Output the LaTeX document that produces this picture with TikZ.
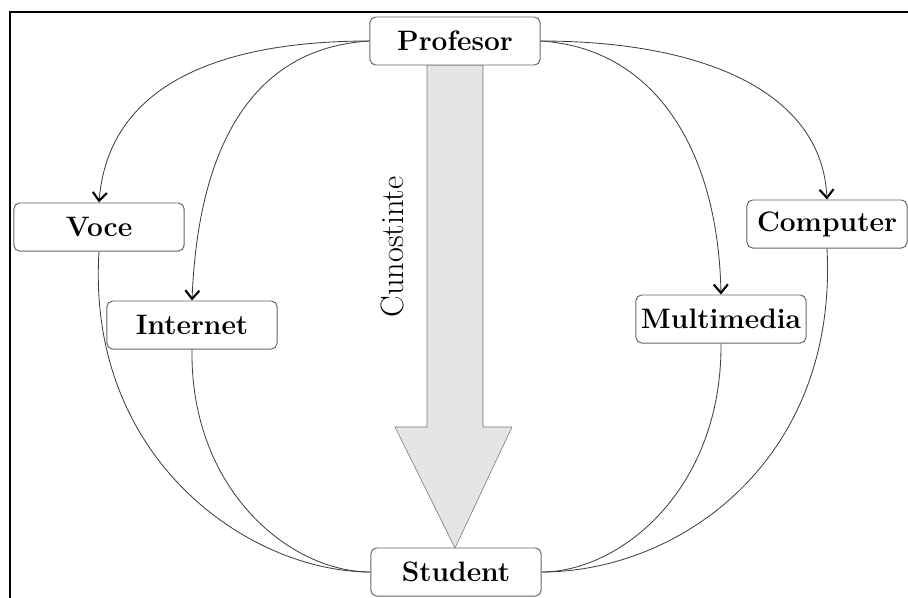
\documentclass[tikz,border=0pt]{standalone}
\usepackage{tikz}
\usetikzlibrary{arrows.meta}

\begin{document}
\begin{tikzpicture}[x=0.025cm,y=-0.025cm,
    box/.style={draw=black!60,line width=0.7pt,rounded corners=4pt,fill=white,minimum width=4.25cm,minimum height=1.2cm,inner sep=1pt,font=\fontsize{20}{24}\selectfont\bfseries},
    link/.style={draw=black!75,semithick},
    tip/.style={-{Straight Barb[length=6pt,width=10pt,line width=1.5pt,color=black]}}]
        \useasboundingbox (0,0) rectangle (908,598);
        %边框
        \draw [line width=1.5pt] (10,598) -- (10,12) -- (908,12);
        %大箭头
        \draw [black!55,fill=black!10] (427,65) -- (483,65) -- (483,427) -- (512,427) -- (455,548) -- (395,427) -- (427,427) -- cycle;
        \node [rotate=90,font=\fontsize{23}{27}\selectfont] (know) at (392,247) {Cunostinte};
        %节点
        \node [box] (prof) at (455,41) {Profesor};
        \node [box] (voce) at (99,227) {Voce};
        \node [box] (internet) at (192,325) {Internet};
        \node [box,minimum width=4cm] (computer) at (827,224) {Computer};
        \node [box] (multimedia) at (721,319) {Multimedia};
        \node [box] (student) at (456,572) {Student};
        %上方曲线
        \draw [link,tip] (prof.west) .. controls (210,41) and (108,90) .. (voce.north);
        \draw [link,tip] (prof.west) .. controls (250,48) and (198,150) .. (internet.north);
        \draw [link,tip] (prof.east) .. controls (700,41) and (822,90) .. (computer.north);
        \draw [link,tip] (prof.east) .. controls (655,48) and (718,150) .. (multimedia.north);
        %下方曲线
        \draw [link] (voce.south) .. controls (86,460) and (250,572) .. (student.west);
        \draw [link] (internet.south) .. controls (190,490) and (290,572) .. (student.west);
        \draw [link] (multimedia.south) .. controls (722,490) and (620,572) .. (student.east);
        \draw [link] (computer.south) .. controls (838,460) and (680,572) .. (student.east);
    \end{tikzpicture}
\end{document}
